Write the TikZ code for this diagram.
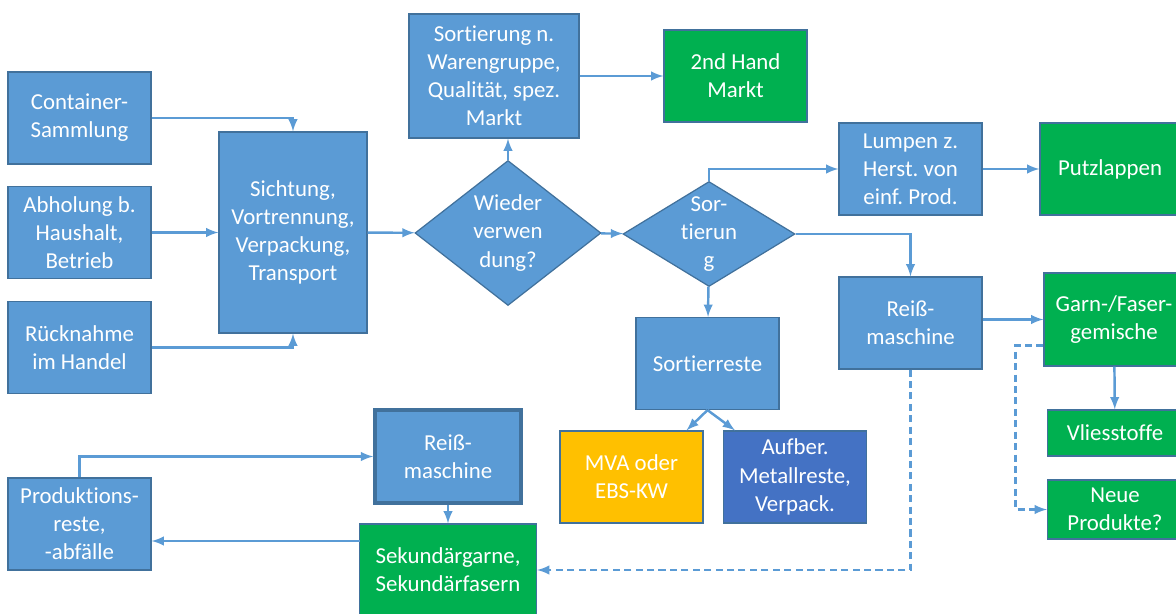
\documentclass[tikz,border=0pt]{standalone}
\usepackage{fontspec}
\setmainfont{Carlito}[Ligatures=NoCommon]
\frenchspacing
\usetikzlibrary{shapes.geometric}
\definecolor{boxblue}{HTML}{5B9BD5}
\definecolor{boxline}{HTML}{41719C}
\definecolor{boxgreen}{HTML}{00B050}
\definecolor{boxyellow}{HTML}{FFC000}
\definecolor{boxdark}{HTML}{4472C4}
\begin{document}
\begin{tikzpicture}[x=0.02cm, y=-0.02cm, >=latex,
        main box/.style={rectangle, draw=boxline, line width=0.7pt, fill=boxblue, text=white, align=center, inner sep=2pt,
            font=\fontsize{13}{16}\selectfont, minimum width=2.86cm, minimum height=1.84cm},
        green box/.style={main box, fill=boxgreen},
        decision/.style={main box, diamond, inner sep=0pt},
        flow/.style={draw=boxblue, line width=1.4pt, ->},
        hv path/.style={to path={-| (\tikztotarget)}},
        vh path/.style={to path={|- (\tikztotarget)}}]
        \useasboundingbox (0,0) rectangle (1176,614);

        \node[main box] at (79.5, 118) (cont) {Container-\\Sammlung};
        \node[main box] at (79.5, 232.5) (abhol) {Abholung b.\\Haushalt,\\Betrieb};
        \node[main box] at (79.5, 347.5) (rueck) {Rücknahme\\im Handel};
        \node[main box, minimum width=2.96cm, minimum height=4.02cm] at (293, 232.5) (sicht) {Sichtung,\\Vortrennung,\\Verpackung,\\Transport};
        \node[decision, aspect=1.28, minimum width=3.72cm, minimum height=2.9cm] at (508, 233) (wieder) {Wieder\\verwen\\dung?};
        \node[main box, minimum width=3.4cm, minimum height=2.48cm] at (494, 76) (sortn) {Sortierung n.\\Warengruppe,\\Qualität, spez.\\Markt};
        \node[green box] at (735.5, 76) (hand) {2nd Hand\\Markt};
        \node[decision, aspect=1.64, inner sep=-0.2cm, minimum width=3.44cm, minimum height=2.1cm] at (709, 234) (sort) {Sor-\\tierun\\g};
        \node[main box] at (910.5, 169) (lumpen) {Lumpen z.\\Herst. von\\einf. Prod.};
        \node[green box, minimum width=2.8cm] at (1110, 169) (putz) {Putzlappen};
        \node[main box] at (910.5, 323) (reiss) {Reiß-\\maschine};
        \node[green box, minimum width=2.8cm, minimum height=1.86cm] at (1114, 319.5) (garn) {Garn-/Faser-\\gemische};
        \node[green box, minimum width=2.7cm, minimum height=0.92cm] at (1115, 433) (vlies) {Vliesstoffe};
        \node[green box, minimum width=2.7cm, minimum height=1.18cm] at (1115, 509.5) (neue) {Neue\\Produkte?};
        \node[main box] at (707.5, 363.5) (reste) {Sortierreste};
        \node[main box, fill=boxyellow] at (631.5, 477) (mva) {MVA oder\\EBS-KW};
        \node[main box, fill=boxdark] at (795, 477) (aufber) {Aufber.\\Metallreste,\\Verpack.};
        \node[main box, line width=2pt, minimum width=2.92cm, minimum height=1.86cm] at (448, 456.5) (reiss2) {Reiß-\\maschine};
        \node[green box, minimum width=3.54cm] at (448, 570) (sek) {Sekundärgarne,\\Sekundärfasern};
        \node[main box] at (79.5, 524) (prod) {Produktions-\\reste,\\-abfälle};
        \coordinate (back) at (360, 541);

        \path[every edge/.style={flow}]
            (cont) edge[hv path] (sicht)
            (abhol) edge (sicht)
            (rueck) edge[hv path] (sicht)
            (sicht) edge (wieder)
            (wieder) edge (wieder |- sortn.south)
            (sortn) edge (hand)
            (wieder) edge (sort)
            (sort) edge[vh path] (lumpen)
            (lumpen) edge (putz)
            (sort) edge[hv path] (reiss)
            (sort) edge (reste)
            (reste.south) edge ([xshift=1.1cm]mva.north)
            (reste.south) edge ([xshift=-1.2cm]aufber.north)
            (reiss.east |- garn.west) edge (garn)
            (garn) edge (vlies)
            (reiss2) edge (sek)
            (back) edge (prod.east |- back)
            (prod) edge[vh path] (reiss2)
            ;
        \path[every edge/.style={flow, dash pattern=on 4pt off 2.5pt}]
            (reiss) edge[vh path] (sek)
            ([yshift=-0.52cm]garn.west) edge[to path={-- ++(-28,0) |- (\tikztotarget)}] (neue)
            ;
    \end{tikzpicture}
\end{document}
